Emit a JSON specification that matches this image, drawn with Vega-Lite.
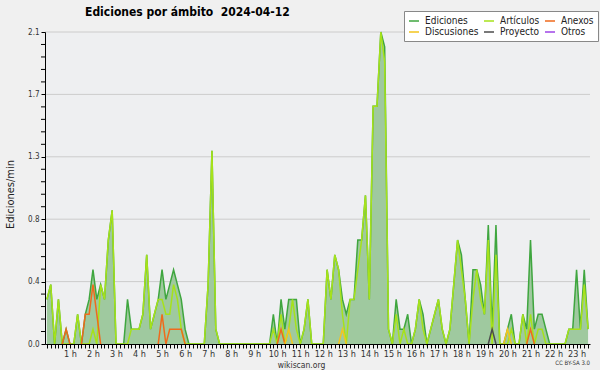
{
  "$schema": "https://vega.github.io/schema/vega-lite/v6.json",
  "width": 545,
  "height": 312,
  "autosize": "none",
  "padding": {"left": 45, "top": 32, "right": 10, "bottom": 26},
  "background": "#f0f0f0",
  "config": {
    "view": {"fill": "#eeeff1", "stroke": null},
    "font": "DejaVu Sans Condensed, DejaVu Sans",
    "axis": {"labelOverlap": false}
  },
  "title": {
    "text": "Ediciones por ámbito\u00a0 2024-04-12",
    "anchor": "start",
    "frame": "group",
    "dx": 40,
    "offset": -8,
    "fontSize": 12,
    "fontWeight": "bold",
    "font": "DejaVu Sans Condensed, DejaVu Sans",
    "color": "#000000"
  },
  "datasets": {
    "main": [
      {"t":0,"Ediciones":0.3,"Artículos":0.3},{"t":1,"Ediciones":0.4,"Artículos":0.4},{"t":2,"Ediciones":0,"Artículos":0},{"t":3,"Ediciones":0.3,"Artículos":0.3},{"t":4,"Ediciones":0,"Artículos":0},{"t":5,"Ediciones":0.1,"Artículos":0},{"t":6,"Ediciones":0,"Artículos":0},{"t":7,"Ediciones":0,"Artículos":0},{"t":8,"Ediciones":0.2,"Artículos":0.2},{"t":9,"Ediciones":0,"Artículos":0},
      {"t":10,"Ediciones":0.2,"Artículos":0},{"t":11,"Ediciones":0.3,"Artículos":0},{"t":12,"Ediciones":0.5,"Artículos":0.1},{"t":13,"Ediciones":0.3,"Artículos":0},{"t":14,"Ediciones":0.4,"Artículos":0.4},{"t":15,"Ediciones":0.3,"Artículos":0.3},{"t":16,"Ediciones":0.7,"Artículos":0.7},{"t":17,"Ediciones":0.9,"Artículos":0.9},{"t":18,"Ediciones":0,"Artículos":0},{"t":19,"Ediciones":0,"Artículos":0},
      {"t":20,"Ediciones":0,"Artículos":0},{"t":21,"Ediciones":0.3,"Artículos":0},{"t":22,"Ediciones":0.1,"Artículos":0.1},{"t":23,"Ediciones":0.1,"Artículos":0.1},{"t":24,"Ediciones":0.1,"Artículos":0.1},{"t":25,"Ediciones":0.2,"Artículos":0.2},{"t":26,"Ediciones":0.6,"Artículos":0.6},{"t":27,"Ediciones":0.1,"Artículos":0.1},{"t":28,"Ediciones":0.2,"Artículos":0.2},{"t":29,"Ediciones":0.3,"Artículos":0.3},
      {"t":30,"Ediciones":0.5,"Artículos":0.3},{"t":31,"Ediciones":0.3,"Artículos":0.2},{"t":32,"Ediciones":0.4,"Artículos":0.2},{"t":33,"Ediciones":0.5,"Artículos":0.4},{"t":34,"Ediciones":0.4,"Artículos":0.3},{"t":35,"Ediciones":0.3,"Artículos":0.1},{"t":36,"Ediciones":0.1,"Artículos":0},{"t":37,"Ediciones":0,"Artículos":0},{"t":38,"Ediciones":0,"Artículos":0},{"t":39,"Ediciones":0,"Artículos":0},
      {"t":40,"Ediciones":0,"Artículos":0},{"t":41,"Ediciones":0,"Artículos":0},{"t":42,"Ediciones":0.4,"Artículos":0.4},{"t":43,"Ediciones":1.3,"Artículos":1.3},{"t":44,"Ediciones":0.1,"Artículos":0.1},{"t":45,"Ediciones":0,"Artículos":0},{"t":46,"Ediciones":0,"Artículos":0},{"t":47,"Ediciones":0,"Artículos":0},{"t":48,"Ediciones":0,"Artículos":0},{"t":49,"Ediciones":0,"Artículos":0},
      {"t":50,"Ediciones":0,"Artículos":0},{"t":51,"Ediciones":0,"Artículos":0},{"t":52,"Ediciones":0,"Artículos":0},{"t":53,"Ediciones":0,"Artículos":0},{"t":54,"Ediciones":0,"Artículos":0},{"t":55,"Ediciones":0,"Artículos":0},{"t":56,"Ediciones":0,"Artículos":0},{"t":57,"Ediciones":0,"Artículos":0},{"t":58,"Ediciones":0,"Artículos":0},{"t":59,"Ediciones":0.2,"Artículos":0.1},
      {"t":60,"Ediciones":0,"Artículos":0},{"t":61,"Ediciones":0.3,"Artículos":0.2},{"t":62,"Ediciones":0.1,"Artículos":0},{"t":63,"Ediciones":0.3,"Artículos":0.1},{"t":64,"Ediciones":0.3,"Artículos":0.3},{"t":65,"Ediciones":0.3,"Artículos":0.1},{"t":66,"Ediciones":0,"Artículos":0},{"t":67,"Ediciones":0.1,"Artículos":0.1},{"t":68,"Ediciones":0.3,"Artículos":0.3},{"t":69,"Ediciones":0,"Artículos":0},
      {"t":70,"Ediciones":0,"Artículos":0},{"t":71,"Ediciones":0,"Artículos":0},{"t":72,"Ediciones":0,"Artículos":0},{"t":73,"Ediciones":0.5,"Artículos":0.5},{"t":74,"Ediciones":0.3,"Artículos":0.3},{"t":75,"Ediciones":0.6,"Artículos":0.6},{"t":76,"Ediciones":0.5,"Artículos":0.5},{"t":77,"Ediciones":0.3,"Artículos":0.2},{"t":78,"Ediciones":0.2,"Artículos":0},{"t":79,"Ediciones":0.3,"Artículos":0.3},
      {"t":80,"Ediciones":0.3,"Artículos":0.3},{"t":81,"Ediciones":0.7,"Artículos":0.5},{"t":82,"Ediciones":0.7,"Artículos":0.7},{"t":83,"Ediciones":1.0,"Artículos":1.0},{"t":84,"Ediciones":0.3,"Artículos":0.3},{"t":85,"Ediciones":1.6,"Artículos":1.6},{"t":86,"Ediciones":1.6,"Artículos":1.6},{"t":87,"Ediciones":2.1,"Artículos":2.1},{"t":88,"Ediciones":2.0,"Artículos":1.9},{"t":89,"Ediciones":0.1,"Artículos":0.1},
      {"t":90,"Ediciones":0,"Artículos":0},{"t":91,"Ediciones":0.3,"Artículos":0.2},{"t":92,"Ediciones":0.1,"Artículos":0},{"t":93,"Ediciones":0.1,"Artículos":0.1},{"t":94,"Ediciones":0.2,"Artículos":0},{"t":95,"Ediciones":0,"Artículos":0},{"t":96,"Ediciones":0.1,"Artículos":0.1},{"t":97,"Ediciones":0.3,"Artículos":0.3},{"t":98,"Ediciones":0.2,"Artículos":0.1},{"t":99,"Ediciones":0,"Artículos":0},
      {"t":100,"Ediciones":0.1,"Artículos":0.1},{"t":101,"Ediciones":0.2,"Artículos":0.2},{"t":102,"Ediciones":0.3,"Artículos":0.3},{"t":103,"Ediciones":0.1,"Artículos":0.1},{"t":104,"Ediciones":0,"Artículos":0},{"t":105,"Ediciones":0.1,"Artículos":0.1},{"t":106,"Ediciones":0.4,"Artículos":0.4},{"t":107,"Ediciones":0.7,"Artículos":0.7},{"t":108,"Ediciones":0.6,"Artículos":0.5},{"t":109,"Ediciones":0.3,"Artículos":0.3},
      {"t":110,"Ediciones":0,"Artículos":0},{"t":111,"Ediciones":0.5,"Artículos":0.3},{"t":112,"Ediciones":0.5,"Artículos":0.5},{"t":113,"Ediciones":0.4,"Artículos":0.3},{"t":114,"Ediciones":0.2,"Artículos":0.2},{"t":115,"Ediciones":0.8,"Artículos":0.7},{"t":116,"Ediciones":0.1,"Artículos":0},{"t":117,"Ediciones":0.8,"Artículos":0.6},{"t":118,"Ediciones":0,"Artículos":0},{"t":119,"Ediciones":0,"Artículos":0},
      {"t":120,"Ediciones":0.1,"Artículos":0},{"t":121,"Ediciones":0.2,"Artículos":0.1},{"t":122,"Ediciones":0,"Artículos":0},{"t":123,"Ediciones":0,"Artículos":0},{"t":124,"Ediciones":0.2,"Artículos":0.2},{"t":125,"Ediciones":0.1,"Artículos":0},{"t":126,"Ediciones":0.7,"Artículos":0.2},{"t":127,"Ediciones":0.1,"Artículos":0},{"t":128,"Ediciones":0.2,"Artículos":0.1},{"t":129,"Ediciones":0.2,"Artículos":0.1},
      {"t":130,"Ediciones":0.1,"Artículos":0},{"t":131,"Ediciones":0,"Artículos":0},{"t":132,"Ediciones":0,"Artículos":0},{"t":133,"Ediciones":0,"Artículos":0},{"t":134,"Ediciones":0,"Artículos":0},{"t":135,"Ediciones":0,"Artículos":0},{"t":136,"Ediciones":0.1,"Artículos":0.1},{"t":137,"Ediciones":0.1,"Artículos":0.1},{"t":138,"Ediciones":0.5,"Artículos":0.1},{"t":139,"Ediciones":0.1,"Artículos":0.1},
      {"t":140,"Ediciones":0.5,"Artículos":0.4},{"t":141,"Ediciones":0.1,"Artículos":0.1}
    ],
    "sparse": [
      {"t":4,"s":"Anexos","g":1,"v":0},{"t":5,"s":"Anexos","g":1,"v":0.1},{"t":6,"s":"Anexos","g":1,"v":0},
      {"t":9,"s":"Anexos","g":2,"v":0},{"t":10,"s":"Anexos","g":2,"v":0.2},{"t":11,"s":"Anexos","g":2,"v":0.2},{"t":12,"s":"Anexos","g":2,"v":0.4},{"t":13,"s":"Anexos","g":2,"v":0.2},{"t":14,"s":"Anexos","g":2,"v":0},
      {"t":29,"s":"Anexos","g":3,"v":0},{"t":30,"s":"Anexos","g":3,"v":0.2},{"t":31,"s":"Anexos","g":3,"v":0},{"t":32,"s":"Anexos","g":3,"v":0.1},{"t":33,"s":"Anexos","g":3,"v":0.1},{"t":34,"s":"Anexos","g":3,"v":0.1},{"t":35,"s":"Anexos","g":3,"v":0.1},{"t":36,"s":"Anexos","g":3,"v":0},
      {"t":60,"s":"Anexos","g":4,"v":0},{"t":61,"s":"Anexos","g":4,"v":0.1},{"t":62,"s":"Anexos","g":4,"v":0},
      {"t":125,"s":"Anexos","g":5,"v":0},{"t":126,"s":"Anexos","g":5,"v":0.1},{"t":127,"s":"Anexos","g":5,"v":0},
      {"t":62,"s":"Discusiones","g":6,"v":0},{"t":63,"s":"Discusiones","g":6,"v":0.1},{"t":64,"s":"Discusiones","g":6,"v":0},
      {"t":76,"s":"Discusiones","g":7,"v":0},{"t":77,"s":"Discusiones","g":7,"v":0.1},{"t":78,"s":"Discusiones","g":7,"v":0},
      {"t":119,"s":"Discusiones","g":8,"v":0},{"t":120,"s":"Discusiones","g":8,"v":0.1},{"t":121,"s":"Discusiones","g":8,"v":0},
      {"t":115,"s":"Proyecto","g":9,"v":0},{"t":116,"s":"Proyecto","g":9,"v":0.1},{"t":117,"s":"Proyecto","g":9,"v":0}
    ],
    "grid": [{"g":0.42},{"g":0.84},{"g":1.26},{"g":1.68},{"g":2.1}],
    "minor": [{"m":0.084},{"m":0.168},{"m":0.252},{"m":0.336},{"m":0.504},{"m":0.588},{"m":0.672},{"m":0.756},{"m":0.924},{"m":1.008},{"m":1.092},{"m":1.176},{"m":1.344},{"m":1.428},{"m":1.512},{"m":1.596},{"m":1.764},{"m":1.848},{"m":1.932},{"m":2.016}],
    "note": [{"c":"CC BY-SA 3.0"}]
  },
  "layer": [
    {
      "data": {"name": "grid"},
      "mark": {"type": "rule", "color": "#cccccc", "strokeWidth": 1},
      "encoding": {
        "y": {"field": "g", "type": "quantitative", "scale": {"domain": [0, 2.1], "nice": false}}
      }
    },
    {
      "data": {"name": "main"},
      "mark": {"type": "area", "color": "#9fc99f", "opacity": 1},
      "encoding": {
        "x": {
          "field": "t", "type": "quantitative",
          "scale": {"domain": [-0.5, 141.5], "nice": false, "zero": false},
          "axis": {
            "orient": "bottom", "tickCount": 142, "grid": false, "zindex": 1,
            "labelExpr": "datum.value > 0 && datum.value % 6 == 0 ? (datum.value / 6) + ' h' : ''",
            "labelOverlap": false, "labelFlush": false, "labelBound": false,
            "labelDx": -5, "labelPadding": 1, "labelFontSize": 9, "labelColor": "#333333",
            "tickSize": 4, "tickColor": "#000000", "domainColor": "#000000",
            "title": "wikiscan.org", "titleFontSize": 8.5, "titleFontWeight": "normal",
            "titleColor": "#333333", "titlePadding": 2, "titleX": 256
          }
        },
        "y": {
          "field": "Ediciones", "type": "quantitative",
          "scale": {"domain": [0, 2.1], "nice": false},
          "axis": {
            "values": [0, 0.42, 0.84, 1.26, 1.68, 2.1],
            "format": ".1f",
            "grid": false,
            "zindex": 1, "labelOverlap": false, "labelFlush": false,
            "labelFontSize": 8, "labelColor": "#333333", "labelPadding": 2,
            "tickSize": 4, "tickColor": "#000000", "domainColor": "#000000",
            "title": "Ediciones/min", "titleFontSize": 11, "titleFontWeight": "normal",
            "titleColor": "#222222", "titlePadding": 12, "titleY": 162
          }
        }
      }
    },
    {
      "data": {"name": "minor"},
      "mark": {"type": "rule", "color": "#000000", "strokeWidth": 1},
      "encoding": {
        "x": {"datum": -1.542, "type": "quantitative", "scale": {"domain": [-0.5, 141.5], "nice": false, "zero": false}},
        "x2": {"datum": -0.5},
        "y": {"field": "m", "type": "quantitative", "scale": {"domain": [0, 2.1], "nice": false}}
      }
    },
    {
      "data": {"name": "main"},
      "transform": [{"fold": ["Ediciones", "Artículos"], "as": ["s", "v"]}],
      "mark": {"type": "line", "strokeWidth": 1.5},
      "encoding": {
        "x": {"field": "t", "type": "quantitative", "scale": {"domain": [-0.5, 141.5], "nice": false, "zero": false}},
        "y": {"field": "v", "type": "quantitative", "scale": {"domain": [0, 2.1], "nice": false}},
        "color": {
          "field": "s", "type": "nominal",
          "scale": {
            "domain": ["Ediciones", "Artículos", "Anexos", "Discusiones", "Proyecto", "Otros"],
            "range": ["#3fa63f", "#a6e21a", "#ef6a1c", "#f3c51d", "#4d4d4d", "#9e44e6"]
          },
          "legend": {
            "orient": "none", "legendX": 359, "legendY": -21,
            "direction": "horizontal", "columns": 3, "title": null,
            "symbolType": "stroke", "symbolSize": 100, "symbolStrokeWidth": 1.5,
            "labelFontSize": 10, "labelFont": "DejaVu Sans Condensed, DejaVu Sans", "labelColor": "#222222",
            "labelOffset": 5, "fillColor": "#ffffff", "strokeColor": "#888888",
            "padding": 4, "rowPadding": 0, "columnPadding": 2
          }
        }
      }
    },
    {
      "data": {"name": "sparse"},
      "mark": {"type": "line", "strokeWidth": 1.5},
      "encoding": {
        "x": {"field": "t", "type": "quantitative", "scale": {"domain": [-0.5, 141.5], "nice": false, "zero": false}},
        "y": {"field": "v", "type": "quantitative", "scale": {"domain": [0, 2.1], "nice": false}},
        "color": {"field": "s", "type": "nominal"},
        "detail": {"field": "g", "type": "nominal"}
      }
    },
    {
      "data": {"name": "note"},
      "mark": {"type": "text", "align": "right", "baseline": "middle", "fontSize": 6, "color": "#333333"},
      "encoding": {
        "x": {"datum": 141.5, "type": "quantitative", "scale": {"domain": [-0.5, 141.5], "nice": false, "zero": false}},
        "y": {"datum": -0.128, "type": "quantitative", "scale": {"domain": [0, 2.1], "nice": false}},
        "text": {"field": "c"}
      }
    }
  ]
}
